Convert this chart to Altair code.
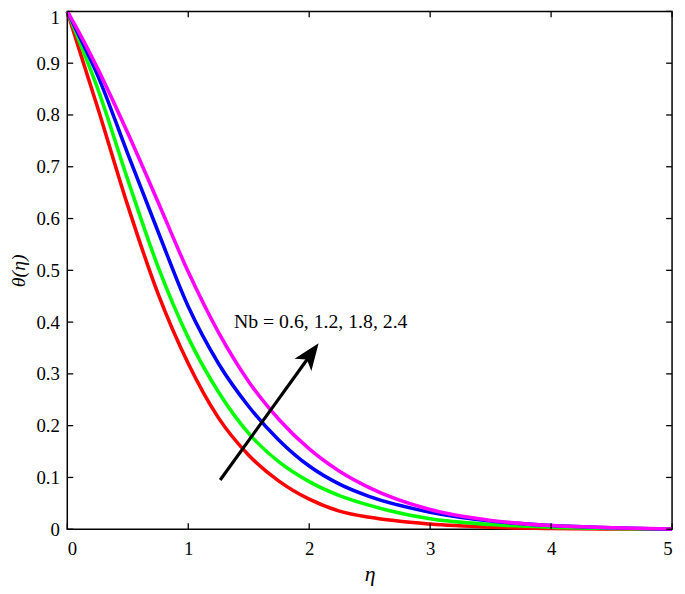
import altair as alt
import pandas as pd

eta = [0, 0.1, 0.25, 0.5, 0.75, 1.0, 1.25, 1.5, 1.75, 2.0, 2.25, 2.5, 3.0, 3.5, 4.0, 4.5, 5.0]
nb_labels = ["0.6", "1.2", "1.8", "2.4"]
theta_nb06 = [1, 0.925, 0.815, 0.625, 0.455, 0.32, 0.215, 0.143, 0.093, 0.058, 0.035, 0.023, 0.010, 0.004, 0.0015, 0.0005, 0]
theta_nb12 = [1, 0.942, 0.852, 0.675, 0.507, 0.37, 0.265, 0.185, 0.13, 0.092, 0.065, 0.046, 0.020, 0.009, 0.004, 0.0015, 0]
theta_nb18 = [1, 0.952, 0.877, 0.725, 0.575, 0.43, 0.32, 0.237, 0.172, 0.122, 0.087, 0.063, 0.033, 0.016, 0.007, 0.003, 0]
theta_nb24 = [1, 0.958, 0.89, 0.765, 0.632, 0.497, 0.38, 0.285, 0.212, 0.155, 0.112, 0.080, 0.038, 0.017, 0.007, 0.003, 0.0005]
colors = ["#FF0000", "#00FF00", "#0000FF", "#FF00FF"]

x_ticks = [0, 1, 2, 3, 4, 5]
y_ticks = [0, 0.1, 0.2, 0.3, 0.4, 0.5, 0.6, 0.7, 0.8, 0.9, 1.0]

# annotation (data coordinates)
arrow_tail = (1.264, 0.095)
arrow_shaft_end = (2.011, 0.337)
arrow_tip = (2.078, 0.359)
label_pos = (1.378, 0.389)
label_text = "Nb = 0.6, 1.2, 1.8, 2.4"

W, H = 612, 524
FONT = "Liberation Serif"

rows = []
for lab, ys in zip(nb_labels, [theta_nb06, theta_nb12, theta_nb18, theta_nb24]):
    for e, t in zip(eta, ys):
        rows.append({"eta": e, "theta": t, "Nb": lab})
df = pd.DataFrame(rows)

xs = alt.Scale(domain=[0, 5], nice=False, zero=False)
ys = alt.Scale(domain=[0, 1], nice=False, zero=False)

lines = alt.Chart(df).mark_line(strokeWidth=3.6, interpolate="monotone").encode(
    x=alt.X("eta:Q", scale=xs,
            axis=alt.Axis(values=x_ticks, ticks=False, domain=False, grid=False,
                          format="d",
                          labelFont=FONT, labelFontSize=19, labelColor="black",
                          labelPadding=11, title="η", titleFont=FONT,
                          titleFontSize=22, titleFontStyle="italic",
                          titleFontWeight="normal", titleColor="black",
                          titlePadding=5)),
    y=alt.Y("theta:Q", scale=ys,
            axis=alt.Axis(values=y_ticks, ticks=False, domain=False, grid=False,
                          format="~g",
                          labelOffset=alt.condition("datum.value == 1", alt.value(6), alt.value(0)),
                          labelFont=FONT, labelFontSize=19, labelColor="black",
                          labelPadding=8, title="θ(η)", titleFont=FONT,
                          titleFontSize=20, titleFontStyle="italic",
                          titleFontWeight="normal", titleColor="black",
                          titlePadding=8)),
    color=alt.Color("Nb:N", scale=alt.Scale(domain=nb_labels, range=colors), legend=None),
    detail="Nb:N",
)

xt = pd.DataFrame({"v": x_ticks})
yt = pd.DataFrame({"v": y_ticks})
tick_style = dict(color="black", strokeWidth=1.3)
xb = alt.Chart(xt).mark_rule(**tick_style).encode(x=alt.X("v:Q", scale=xs), y=alt.value(H), y2=alt.value(H - 6))
xtop = alt.Chart(xt).mark_rule(**tick_style).encode(x=alt.X("v:Q", scale=xs), y=alt.value(0), y2=alt.value(6))
yl = alt.Chart(yt).mark_rule(**tick_style).encode(y=alt.Y("v:Q", scale=ys), x=alt.value(0), x2=alt.value(6))
yr = alt.Chart(yt).mark_rule(**tick_style).encode(y=alt.Y("v:Q", scale=ys), x=alt.value(W), x2=alt.value(W - 6))

arrow_df = pd.DataFrame({"x": [arrow_tail[0]], "y": [arrow_tail[1]],
                         "x2": [arrow_shaft_end[0]], "y2": [arrow_shaft_end[1]]})
shaft = alt.Chart(arrow_df).mark_rule(color="black", strokeWidth=3.2).encode(
    x=alt.X("x:Q", scale=xs), y=alt.Y("y:Q", scale=ys), x2="x2:Q", y2="y2:Q")

head_df = pd.DataFrame({"x": [arrow_tip[0]], "y": [arrow_tip[1]]})
head = alt.Chart(head_df).mark_point(
    shape="M0,0 L0.78,2 L0,1.5 L-0.78,2 Z", size=729, angle=36,
    filled=True, color="black", opacity=1, strokeWidth=0).encode(
    x=alt.X("x:Q", scale=xs), y=alt.Y("y:Q", scale=ys))

label_df = pd.DataFrame({"x": [label_pos[0]], "y": [label_pos[1]], "t": [label_text]})
label = alt.Chart(label_df).mark_text(
    font=FONT, fontSize=20, align="left", baseline="alphabetic", color="black").encode(
    x=alt.X("x:Q", scale=xs), y=alt.Y("y:Q", scale=ys), text="t:N")

chart = alt.layer(lines, xb, xtop, yl, yr, shaft, head, label).properties(
    width=W, height=H,
    autosize="none",
    padding={"left": 60, "top": 0, "right": 5, "bottom": 54},
    background="white",
).configure_view(stroke="black", strokeWidth=1.5)

chart.save("out.html", embed_options={"renderer": "svg", "actions": False})
